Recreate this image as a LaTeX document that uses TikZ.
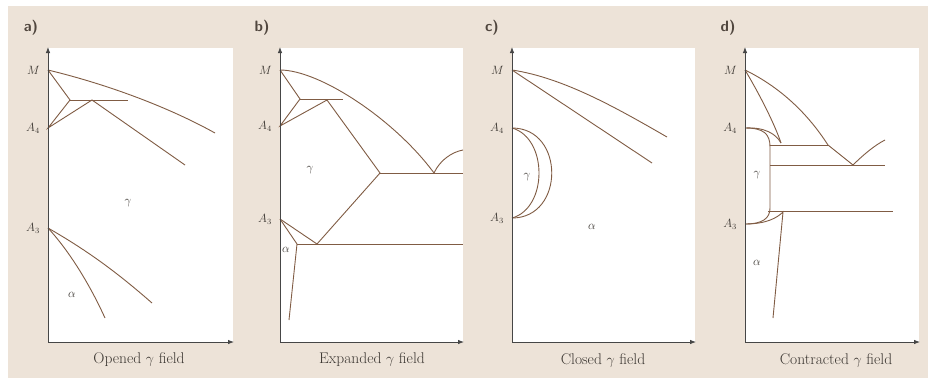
\documentclass[tikz,border=0pt]{standalone}
\usetikzlibrary{arrows.meta}
\definecolor{beige}{RGB}{237,227,216}
\definecolor{phasec}{RGB}{128,92,68}
\definecolor{axisc}{RGB}{70,70,70}
\definecolor{plabc}{RGB}{80,70,62}
\definecolor{textc}{RGB}{60,55,50}
\begin{document}
\begin{tikzpicture}[x=1pt,y=-1pt,
  axis/.style={draw=axisc,line width=0.8pt,-{Latex[length=6pt,width=4.5pt]}},
  phase/.style={draw=phasec,line width=0.9pt},
  lbl/.style={font=\fontsize{12}{13}\selectfont,text=textc,anchor=east,inner sep=0pt,xshift=-8pt},
  fld/.style={font=\fontsize{12}{13}\selectfont,text=textc,inner sep=0pt},
  captext/.style={font=\fontsize{15.5}{17}\selectfont,text=textc,inner sep=0pt},
  plab/.style={font=\fontsize{15}{17}\selectfont\sffamily\bfseries,text=plabc,inner sep=0pt}]
\useasboundingbox (0,0) rectangle (928,378);
\fill[beige] (8,6) rectangle (928,378);
% ---------------- panel a
\fill[white] (48,48) rectangle (233,342);
\node[plab] (pa) at (31,28) {a)};
\coordinate (aO) at (48,342); \coordinate (aY) at (48,47); \coordinate (aX) at (234,342);
\coordinate (aM) at (48,70); \coordinate (aA4) at (48,128); \coordinate (aA3) at (48,228);
\coordinate (aT) at (70,100); \coordinate (aP) at (92,100); \coordinate (aH) at (128,100);
\coordinate (aE1) at (215,133); \coordinate (aE2) at (185,165);
\coordinate (aE3) at (152,303); \coordinate (aE4) at (105,318);
\draw[phase] (aM) .. controls (110,85) and (170,108) .. (aE1);
\draw[phase] (aM) -- (aT) -- (aA4) -- (aP) -- (aE2);
\draw[phase] (aT) -- (aH);
\draw[phase] (aA3) .. controls (90,252) and (120,275) .. (aE3);
\draw[phase] (aA3) .. controls (70,252) and (90,285) .. (aE4);
\draw[axis] (aO) -- (aY);
\draw[axis] (aO) -- (aX);
\node[lbl] (aLM) at (aM) {$M$};
\node[lbl] (aLA4) at (aA4) {$A_4$};
\node[lbl] (aLA3) at (aA3) {$A_3$};
\node[fld] (aG) at (128,203) {$\gamma$};
\node[fld] (aAl) at (72,295) {$\alpha$};
\node[captext] (aC) at (139,360) {Opened $\gamma$ field};
% ---------------- panel b
\fill[white] (280,48) rectangle (463,342);
\node[plab] (pb) at (262,28) {b)};
\coordinate (bO) at (280,342); \coordinate (bY) at (280,47); \coordinate (bX) at (464,342);
\coordinate (bM) at (280,70); \coordinate (bA4) at (280,126); \coordinate (bA3) at (280,219);
\coordinate (bT) at (300,99); \coordinate (bP) at (327,100); \coordinate (bH) at (343,99);
\coordinate (bE) at (434,173); \coordinate (bQ) at (380,173); \coordinate (bR1) at (463,173);
\coordinate (bF) at (463,150);
\coordinate (bR) at (317,244); \coordinate (bS) at (297,244); \coordinate (bR2) at (463,244);
\coordinate (bV) at (289,320);
\draw[phase] (bM) .. controls (320,70) and (395,120) .. (bE);
\draw[phase] (bE) .. controls (440,160) and (452,152) .. (bF);
\draw[phase] (bM) -- (bT) -- (bA4) -- (bP) -- (bQ) -- (bR);
\draw[phase] (bT) -- (bH);
\draw[phase] (bQ) -- (bR1);
\draw[phase] (bA3) -- (bR);
\draw[phase] (bA3) -- (bS) -- (bV);
\draw[phase] (bS) -- (bR2);
\draw[axis] (bO) -- (bY);
\draw[axis] (bO) -- (bX);
\node[lbl] (bLM) at (bM) {$M$};
\node[lbl] (bLA4) at (bA4) {$A_4$};
\node[lbl] (bLA3) at (bA3) {$A_3$};
\node[fld] (bG) at (310,170) {$\gamma$};
\node[fld] (bAl) at (286,250) {$\alpha$};
\node[captext] (bC) at (372,360) {Expanded $\gamma$ field};
% ---------------- panel c
\fill[white] (512,48) rectangle (695,342);
\node[plab] (pc) at (492,28) {c)};
\coordinate (cO) at (512,342); \coordinate (cY) at (512,47); \coordinate (cX) at (696,342);
\coordinate (cM) at (512,70); \coordinate (cA4) at (512,128); \coordinate (cA3) at (512,218);
\coordinate (cE1) at (667,137); \coordinate (cE2) at (652,163);
\draw[phase] (cM) .. controls (565,78) and (620,110) .. (cE1);
\draw[phase] (cM) -- (cE2);
\draw[phase] (cA4) .. controls (548,138) and (548,208) .. (cA3);
\draw[phase] (cA4) .. controls (565,128) and (565,218) .. (cA3);
\draw[axis] (cO) -- (cY);
\draw[axis] (cO) -- (cX);
\node[lbl] (cLM) at (cM) {$M$};
\node[lbl] (cLA4) at (cA4) {$A_4$};
\node[lbl] (cLA3) at (cA3) {$A_3$};
\node[fld] (cG) at (527,177) {$\gamma$};
\node[fld] (cAl) at (592,227) {$\alpha$};
\node[captext] (cC) at (603,360) {Closed $\gamma$ field};
% ---------------- panel d
\fill[white] (745,48) rectangle (919,342);
\node[plab] (pd) at (728,28) {d)};
\coordinate (dO) at (745,342); \coordinate (dY) at (745,47); \coordinate (dX) at (920,342);
\coordinate (dM) at (745,70); \coordinate (dA4) at (745,128); \coordinate (dA3) at (745,224);
\coordinate (dK) at (781,143); \coordinate (dJ) at (828,145); \coordinate (dE) at (853,165);
\coordinate (dF) at (885,140);
\coordinate (dL1) at (770,145); \coordinate (dL2) at (770,165); \coordinate (dL3) at (768,211);
\coordinate (dR2) at (885,165); \coordinate (dR3) at (893,211);
\coordinate (dU) at (770,147); \coordinate (dW) at (770,208);
\coordinate (dG) at (783,212); \coordinate (dV) at (773,318);
\draw[phase] (dM) .. controls (760,95) and (775,125) .. (dK);
\draw[phase] (dM) .. controls (790,92) and (815,125) .. (dJ) -- (dE);
\draw[phase] (dE) .. controls (863,155) and (875,145) .. (dF);
\draw[phase] (dL1) -- (dJ);
\draw[phase] (dL2) -- (dR2);
\draw[phase] (dL3) -- (dR3);
\draw[phase] (dA4) .. controls (764,128) and (770,134) .. (dU) -- (dW) .. controls (770,218) and (763,224) .. (dA3);
\draw[phase] (dA4) .. controls (765,127) and (776,134) .. (dK);
\draw[phase] (dA3) .. controls (766,224) and (777,218) .. (dG) -- (dV);
\draw[axis] (dO) -- (dY);
\draw[axis] (dO) -- (dX);
\node[lbl] (dLM) at (dM) {$M$};
\node[lbl] (dLA4) at (dA4) {$A_4$};
\node[lbl] (dLA3) at (dA3) {$A_3$};
\node[fld] (dGm) at (757,175) {$\gamma$};
\node[fld] (dAl) at (757,263) {$\alpha$};
\node[captext] (dC) at (836,360) {Contracted $\gamma$ field};
\end{tikzpicture}
\end{document}
